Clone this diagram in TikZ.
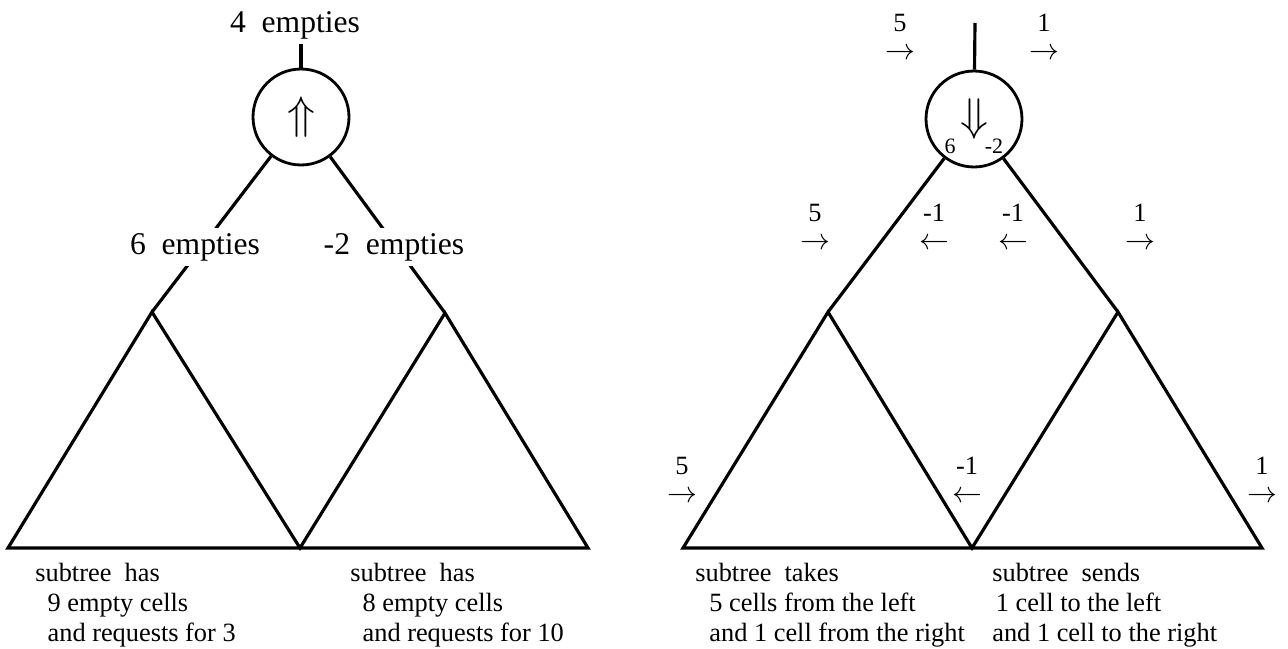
\documentclass[tikz,border=0pt]{standalone}
\usepackage{fix-cm}
\usepackage{fontspec}
\setmainfont{Liberation Serif}
\usepackage{tikz}
\usetikzlibrary{positioning}

\begin{document}
\begin{tikzpicture}[
  x=0.02cm, y=-0.02cm,
  edge/.style={line width=1.8pt, line join=miter},
  hub/.style={circle, draw, line width=1.6pt, minimum size=1.92cm, inner sep=0pt,
    font=\fontsize{26}{26}\selectfont},
  lbl/.style={font=\fontsize{18}{20}\selectfont, fill=white, inner sep=3pt, anchor=base},
  flow/.style={font=\fontsize{15}{16}\selectfont, align=center, inner sep=0pt, anchor=north},
  small/.style={font=\fontsize{12.5}{13}\selectfont, inner sep=0pt},
  note/.style={font=\fontsize{15}{17}\selectfont, align=left, inner sep=0pt, anchor=north west}
]
  \useasboundingbox (0,0) rectangle (1288,649);

  % Left tree: counting empties upward
  \node[hub] (upL) at (301,117) {$\Uparrow$};
  \coordinate (rootL) at (301,40);
  \coordinate (aL1) at (152,312);
  \coordinate (aL2) at (445,313);
  \coordinate (bL0) at (8,548);
  \coordinate (bL1) at (300,548);
  \coordinate (bL2) at (588,548);

  \draw[edge] (rootL) -- (upL);
  \draw[edge] (upL) -- (aL1);
  \draw[edge] (upL) -- (aL2);
  \draw[edge] (bL0) -- (aL1) -- (bL1) -- (aL2) -- (bL2) -- cycle;

  \node[lbl] (emp4) at (295,32) {4~ empties};
  \node[lbl] (emp6) at (195,254) {6~ empties};
  \node[lbl] (emp2) at (394,254) {-2~ empties};

  \node[note] (subL1) at (35,563) {subtree~ has\\\hspace*{7pt}9 empty cells\\\hspace*{7pt}and requests for 3};
  \node[note] (subL2) at (350,563) {subtree~ has\\\hspace*{7pt}8 empty cells\\\hspace*{7pt}and requests for 10};

  % Right tree: distributing cells downward
  \node[hub] (downR) at (974,119) {$\Downarrow$};
  \node[small] (in6) at (950,146) {6};
  \node[small] (in2) at (994,146) {-2};
  \coordinate (rootR) at (975,23);
  \coordinate (aR1) at (828,312);
  \coordinate (aR2) at (1118,312);
  \coordinate (bR0) at (683,548);
  \coordinate (bR1) at (972,548);
  \coordinate (bR2) at (1262,548);

  \draw[edge] (rootR) -- (downR);
  \draw[edge] (downR) -- (aR1);
  \draw[edge] (downR) -- (aR2);
  \draw[edge] (bR0) -- (aR1) -- (bR1) -- (aR2) -- (bR2) -- cycle;

  % Flows
  \node[flow] (top5) at (900,14) {5\\\fontsize{17}{16}\selectfont$\rightarrow$};
  \node[flow] (top1) at (1044,14) {1\\\fontsize{17}{16}\selectfont$\rightarrow$};

  \node[flow] (mid5) at (815,204) {5\\\fontsize{17}{16}\selectfont$\rightarrow$};
  \node[flow] (midm1) at (934,204) {-1\\\fontsize{17}{16}\selectfont$\leftarrow$};
  \node[flow] (midm2) at (1013,204) {-1\\\fontsize{17}{16}\selectfont$\leftarrow$};
  \node[flow] (mid1) at (1140,204) {1\\\fontsize{17}{16}\selectfont$\rightarrow$};

  \node[flow] (low5) at (682,457) {5\\\fontsize{17}{16}\selectfont$\rightarrow$};
  \node[flow] (lowm1) at (967,457) {-1\\\fontsize{17}{16}\selectfont$\leftarrow$};
  \node[flow] (low1) at (1262,457) {1\\\fontsize{17}{16}\selectfont$\rightarrow$};

  \node[note] (subR1) at (695,563) {subtree~ takes\\\hspace*{8pt}5 cells from the left\\\hspace*{8pt}and 1 cell from the right};
  \node[note] (subR2) at (992,563) {subtree~ sends\\\hspace*{2pt}1 cell to the left\\and 1 cell to the right};
\end{tikzpicture}
\end{document}
